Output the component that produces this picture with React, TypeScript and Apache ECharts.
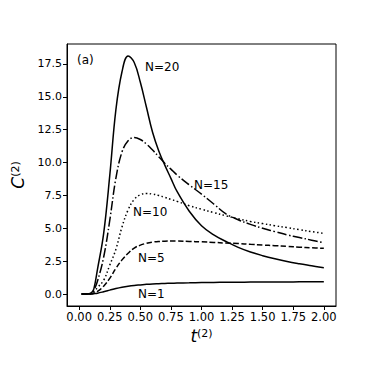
import React, { useEffect, useRef } from "react";
import * as echarts from "echarts";

const tValues = [0.02, 0.05, 0.08, 0.1, 0.12, 0.15, 0.2, 0.25, 0.3, 0.35, 0.4, 0.45, 0.5, 0.55, 0.6, 0.65, 0.7, 0.75, 0.8, 0.9, 1.0, 1.1, 1.2, 1.3, 1.4, 1.5, 1.6, 1.7, 1.8, 1.9, 2.0];

const cN20 = [0, 0, 0.02, 0.1, 0.4, 1.9, 4.6, 9.0, 14.0, 16.9, 18.1, 17.6, 16.1, 14.2, 12.3, 10.9, 9.8, 8.8, 7.8, 6.3, 5.2, 4.5, 4.0, 3.55, 3.2, 2.92, 2.68, 2.47, 2.3, 2.15, 2.0];
const cN15 = [0, 0, 0.02, 0.08, 0.3, 1.0, 2.8, 5.6, 8.8, 10.8, 11.65, 11.9, 11.75, 11.4, 10.95, 10.45, 9.95, 9.5, 9.05, 8.3, 7.6, 6.85, 6.1, 5.65, 5.3, 5.0, 4.75, 4.5, 4.3, 4.1, 3.9];
const cN10 = [0, 0, 0.02, 0.06, 0.2, 0.5, 1.05, 2.2, 3.4, 5.1, 6.4, 7.2, 7.55, 7.65, 7.6, 7.5, 7.35, 7.2, 7.05, 6.72, 6.45, 6.2, 5.95, 5.72, 5.52, 5.36, 5.2, 5.05, 4.9, 4.75, 4.62];
const cN5 = [0, 0, 0.01, 0.03, 0.08, 0.2, 0.6, 1.2, 1.95, 2.6, 3.1, 3.5, 3.72, 3.86, 3.95, 4.0, 4.02, 4.03, 4.03, 4.0, 3.97, 3.93, 3.88, 3.84, 3.78, 3.73, 3.68, 3.63, 3.57, 3.52, 3.48];
const cN1 = [0, 0, 0, 0.01, 0.03, 0.07, 0.18, 0.3, 0.42, 0.52, 0.6, 0.66, 0.7, 0.74, 0.77, 0.79, 0.81, 0.825, 0.84, 0.86, 0.88, 0.89, 0.9, 0.905, 0.91, 0.915, 0.92, 0.925, 0.93, 0.93, 0.93];

const xTicks = [0, 0.25, 0.5, 0.75, 1.0, 1.25, 1.5, 1.75, 2.0];
const yTicks = [0, 2.5, 5.0, 7.5, 10.0, 12.5, 15.0, 17.5];

const curveLabels = [
  { text: "(a)", x: 77, y: 60 },
  { text: "N=20", x: 145, y: 67 },
  { text: "N=15", x: 194, y: 185 },
  { text: "N=10", x: 133, y: 212 },
  { text: "N=5", x: 138, y: 258 },
  { text: "N=1", x: 138, y: 294 },
];

const FONT = "DejaVu Sans";

function pairs(ys: number[]) {
  return tValues.map((t, i) => [t, ys[i]]);
}

export default function App() {
  const ref = useRef<HTMLDivElement>(null);
  useEffect(() => {
    if (!ref.current) return;
    const chart = echarts.init(ref.current, null, { renderer: "svg" });
    const mk = (name: string, ys: number[], type: any) => ({
      name,
      type: "line",
      data: pairs(ys),
      showSymbol: false,
      smooth: 0.4,
      clip: false,
      lineStyle: { color: "#000", width: 1.5, type, cap: "butt" },
    });
    const rich = (main: string) => ({
      [main]: { fontFamily: FONT, fontSize: 17, fontStyle: "italic", color: "#000" },
      s: { fontFamily: FONT, fontSize: 11, color: "#000", verticalAlign: "top", padding: [0, 0, 6, 0] },
    });
    chart.setOption({
      animation: false,
      backgroundColor: "#fff",
      grid: {
        left: 67,
        right: 38,
        top: 44,
        bottom: 68,
        show: true,
        borderColor: "#000",
        borderWidth: 1,
        backgroundColor: "transparent",
      },
      xAxis: {
        type: "value",
        min: -0.0995,
        max: 2.0995,
        name: "{t|t}{s|(2)}",
        nameLocation: "middle",
        nameGap: 21,
        nameTextStyle: { rich: rich("t") },
        splitLine: { show: false },
        axisLine: { onZero: false, lineStyle: { color: "#000", width: 1 } },
        axisTick: { show: true, length: 4, customValues: xTicks, lineStyle: { color: "#000" } },
        axisLabel: {
          customValues: xTicks,
          formatter: (v: number) => v.toFixed(2),
          fontFamily: FONT,
          fontSize: 11.5,
          color: "#000",
          margin: 5,
        },
      },
      yAxis: {
        type: "value",
        min: -0.905,
        max: 19.01,
        name: "{c|C}{s|(2)}",
        nameLocation: "middle",
        nameRotate: 90,
        nameGap: 35,
        nameTextStyle: { rich: rich("c") },
        splitLine: { show: false },
        axisLine: { show: true, onZero: false, lineStyle: { color: "#000", width: 1 } },
        axisTick: { show: true, length: 4, customValues: yTicks, lineStyle: { color: "#000" } },
        axisLabel: {
          customValues: yTicks,
          formatter: (v: number) => v.toFixed(1),
          fontFamily: FONT,
          fontSize: 11,
          color: "#000",
          margin: 5,
        },
      },
      series: [
        mk("N=1", cN1, "solid"),
        mk("N=5", cN5, [5.5, 2.4]),
        mk("N=10", cN10, [1.5, 2.5]),
        mk("N=15", cN15, [9.6, 2.4, 1.5, 2.4]),
        mk("N=20", cN20, "solid"),
      ],
      graphic: curveLabels.map((l) => ({
        type: "text",
        x: l.x,
        y: l.y,
        style: {
          text: l.text,
          fontFamily: FONT,
          fontSize: 12,
          fill: "#000",
          align: "left",
          verticalAlign: "middle",
        },
      })),
    });
    return () => chart.dispose();
  }, []);
  return (
    <div
      ref={ref}
      style={{ position: "fixed", left: 0, top: 0, width: 374, height: 374, background: "#fff" }}
    />
  );
}
